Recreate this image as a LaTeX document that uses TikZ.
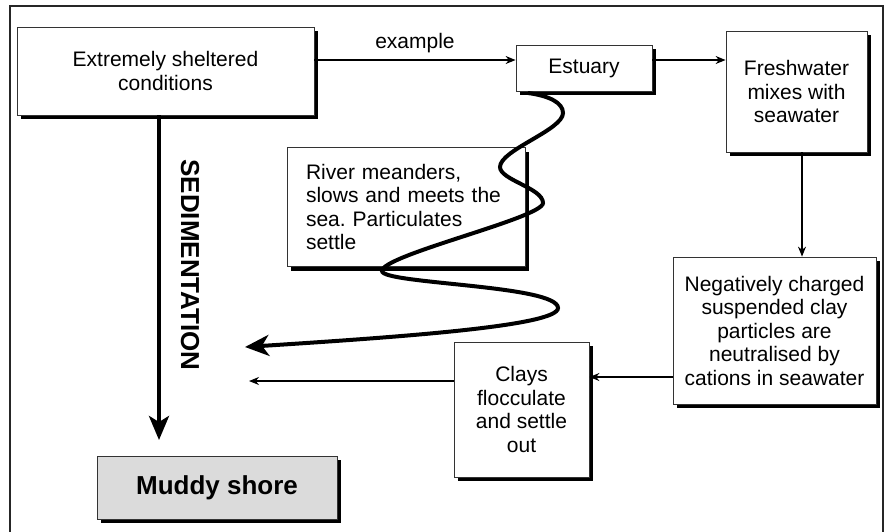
\documentclass[tikz,border=0pt]{standalone}
\usepackage{fontspec}
\setmainfont{Liberation Sans}
\usetikzlibrary{arrows.meta, shadows}
\frenchspacing

\begin{document}
\begin{tikzpicture}[x=1pt, y=-1pt,
    box/.style={draw=black!80, line width=0.8pt, fill=white, align=center,
      inner sep=0pt, font=\fontsize{21}{23.5}\selectfont,
      drop shadow={shadow xshift=4pt, shadow yshift=-4pt, opacity=1, fill=black}},
    thinarrow/.style={line width=1.2pt, -{Stealth[length=10pt, width=8pt]}},
    thickarrow/.style={line width=4pt, -{Stealth[length=24pt, width=21pt, inset=7pt]}}]
  \useasboundingbox (0,0) rectangle (886,531);

  % Frame
  \draw[line width=1.5pt, black!85] (10,540) -- (10,6) -- (883,6) -- (883,540);

  % Boxes
  \node[box, minimum width=297pt, minimum height=88pt] (sheltered) at (165.5,71)
    {Extremely sheltered\\conditions};
  \node[box, minimum width=136pt, minimum height=46pt] (estuary) at (584,68)
    {Estuary};
  \node[box, minimum width=141pt, minimum height=121pt] (freshwater) at (796.5,91.5)
    {Freshwater\\mixes with\\seawater};
  \node[box, minimum width=238pt, minimum height=119pt, inner xsep=19pt,
        text width=200pt, align=left] (river) at (406,207)
    {River meanders,\\slows and meets the\\sea. Particulates\\settle};
  \node[box, minimum width=203pt, minimum height=147pt] (charged) at (774.5,330.5)
    {Negatively charged\\suspended clay\\particles are\\neutralised by\\cations in seawater};
  \node[box, minimum width=135pt, minimum height=135pt] (clays) at (521.5,409.5)
    {Clays\\flocculate\\and settle\\out};
  \node[box, fill=black!14, minimum width=240pt, minimum height=63pt,
        font=\fontsize{26}{28}\selectfont\bfseries] (muddy) at (217,487.5)
    {Muddy shore};

  % Sedimentation
  \coordinate (sedEnd) at (159,440);
  \draw[thickarrow, -{Stealth[length=24pt, width=20pt, inset=6pt]}]
        (sheltered.south -| 159,0) -- (sedEnd);
  \node[rotate=-90, font=\fontsize{26}{28}\selectfont\bfseries] (sedlabel) at (190,265)
    {SEDIMENTATION};

  % Thin arrows
  \draw[thinarrow] (sheltered.east |- 0,60) -- node[above=3pt, font=\fontsize{21}{23.5}\selectfont] (example) {example}
        (estuary.west |- 0,60);
  \draw[thinarrow] (estuary.east |- 0,60) -- (freshwater.west |- 0,60);
  \draw[thinarrow] (freshwater.south -| 802,0) -- (charged.north -| 802,0);
  \draw[thinarrow] (charged.west |- 0,377) -- (clays.east |- 0,377);
  \coordinate (claysEnd) at (249,381);
  \draw[thinarrow] (clays.west |- 0,381) -- (claysEnd);

  % Meandering river
  \coordinate (riverStart) at (528,93);
  \coordinate (riverEnd) at (245,347);
  \draw[thickarrow] (riverStart)
        .. controls (550,96) and (563,103) .. (563,113)
        .. controls (563,130) and (500,150) .. (500,167)
        .. controls (500,180) and (543,188) .. (543,203)
        .. controls (543,218) and (382,255) .. (382,271)
        .. controls (382,284) and (558,285) .. (558,308)
        .. controls (558,326) and (400,337) .. (riverEnd);
\end{tikzpicture}
\end{document}
